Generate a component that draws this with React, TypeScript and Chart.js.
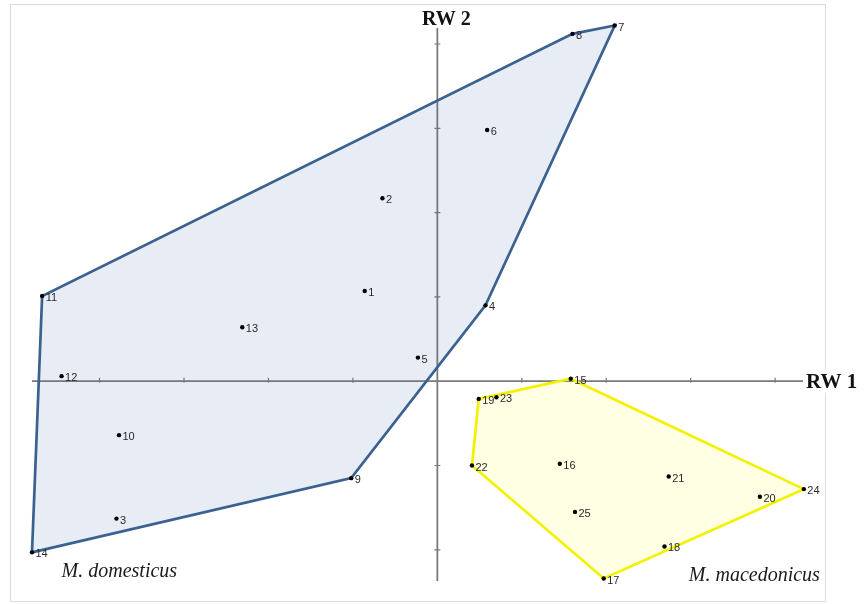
import React, { useEffect, useRef } from "react";
import { Chart, registerables } from "chart.js";

Chart.register(...registerables);

// Specimen scores on the first two relative warps
const specimenIds = [
  1, 2, 3, 4, 5, 6, 7, 8, 9, 10, 11, 12, 13, 14, 15, 16, 17, 18, 19, 20, 21, 22, 23, 24, 25,
];
const rw1Scores = [
  -0.86, -0.65, -3.8, 0.57, -0.23, 0.59, 2.1, 1.6, -1.02, -3.77, -4.68, -4.45, -2.31, -4.8,
  1.58, 1.45, 1.97, 2.69, 0.49, 3.82, 2.74, 0.41, 0.7, 4.34, 1.63,
];
const rw2Scores = [
  1.07, 2.17, -1.63, 0.9, 0.28, 2.98, 4.22, 4.12, -1.15, -0.64, 1.01, 0.06, 0.64, -2.03,
  0.03, -0.98, -2.34, -1.96, -0.21, -1.37, -1.13, -1.0, -0.19, -1.28, -1.55,
];

// Convex hull vertices of each species, by specimen id
const domesticusHull = [14, 11, 8, 7, 4, 9];
const macedonicusHull = [15, 24, 17, 22, 19];

const speciesNames = ["M. domesticus", "M. macedonicus"];
const axisTitles = ["RW 1", "RW 2"];

// Axis ranges
const rw1Range = [-4.8, 4.33];
const rw2Range = [-2.37, 4.19];

const pointOf = (id: number) => {
  const i = specimenIds.indexOf(id);
  return { x: rw1Scores[i], y: rw2Scores[i] };
};
const closedHull = (ids: number[]) => [...ids, ids[0]].map(pointOf);

const axesPlugin = {
  id: "crossAxes",
  beforeDatasetsDraw(chart: any) {
    const { ctx, scales } = chart;
    const xs = scales.x;
    const ys = scales.y;
    const x0 = xs.getPixelForValue(0);
    const y0 = ys.getPixelForValue(0);
    ctx.save();
    ctx.strokeStyle = "#7a7a7a";
    ctx.lineWidth = 1.8;
    ctx.beginPath();
    ctx.moveTo(xs.getPixelForValue(rw1Range[0]), y0);
    ctx.lineTo(xs.getPixelForValue(rw1Range[1]), y0);
    ctx.moveTo(x0, ys.getPixelForValue(rw2Range[1]));
    ctx.lineTo(x0, ys.getPixelForValue(rw2Range[0]));
    ctx.stroke();
    ctx.lineWidth = 1.2;
    ctx.beginPath();
    for (let v = Math.ceil(rw1Range[0]); v <= Math.floor(rw1Range[1]); v++) {
      if (v === 0) continue;
      const px = xs.getPixelForValue(v);
      ctx.moveTo(px, y0 - 3.5);
      ctx.lineTo(px, y0 + 1.5);
    }
    for (let v = Math.ceil(rw2Range[0]); v <= Math.floor(rw2Range[1]); v++) {
      if (v === 0) continue;
      const py = ys.getPixelForValue(v);
      ctx.moveTo(x0 - 3, py);
      ctx.lineTo(x0 + 3, py);
    }
    ctx.stroke();
    ctx.restore();
  },
  afterDatasetsDraw(chart: any) {
    const { ctx, scales } = chart;
    const xs = scales.x;
    const ys = scales.y;
    const x0 = xs.getPixelForValue(0);
    const y0 = ys.getPixelForValue(0);
    ctx.save();

    // specimen labels
    const meta = chart.getDatasetMeta(0);
    ctx.font = "11px 'Liberation Sans', Arial, sans-serif";
    ctx.fillStyle = "#2a2a2a";
    ctx.textAlign = "left";
    ctx.textBaseline = "middle";
    meta.data.forEach((el: any, i: number) => {
      ctx.fillText(String(specimenIds[i]), el.x + 3.5, el.y + 2);
    });

    // axis titles
    ctx.font = "bold 21px 'Liberation Serif', 'Times New Roman', serif";
    const t1 = axisTitles[0];
    const w1 = ctx.measureText(t1).width;
    const lx = xs.getPixelForValue(rw1Range[1]) + 3;
    ctx.fillStyle = "#fff";
    ctx.fillRect(lx - 1, y0 - 12, w1 + 2, 24);
    ctx.fillStyle = "#111";
    ctx.textAlign = "left";
    ctx.fillText(t1, lx, y0 + 1);
    ctx.font = "bold 20px 'Liberation Serif', 'Times New Roman', serif";
    ctx.textAlign = "center";
    ctx.fillText(axisTitles[1], x0 + 9, ys.getPixelForValue(rw2Range[1]) - 8);

    // species names
    ctx.font = "italic 20px 'Liberation Serif', 'Times New Roman', serif";
    ctx.fillStyle = "#1a1a1a";
    ctx.textAlign = "left";
    ctx.fillText(speciesNames[0], xs.getPixelForValue(-4.45), ys.getPixelForValue(-2.26));
    ctx.textAlign = "right";
    ctx.fillText(speciesNames[1], xs.getPixelForValue(4.53), ys.getPixelForValue(-2.31));
    ctx.restore();
  },
};

export default function App() {
  const canvasRef = useRef<HTMLCanvasElement | null>(null);

  useEffect(() => {
    if (!canvasRef.current) return;
    const chart = new Chart(canvasRef.current, {
      type: "scatter",
      data: {
        datasets: [
          {
            label: "specimens",
            data: specimenIds.map((_, i) => ({ x: rw1Scores[i], y: rw2Scores[i] })),
            pointRadius: 2.2,
            pointBackgroundColor: "#000",
            pointBorderColor: "#000",
            pointBorderWidth: 0,
            showLine: false,
            clip: false,
          } as any,
          {
            label: speciesNames[0],
            data: closedHull(domesticusHull),
            showLine: true,
            fill: "shape",
            tension: 0,
            borderColor: "#3b6190",
            borderWidth: 2.7,
            backgroundColor: "rgba(60,100,170,0.12)",
            pointRadius: 0,
            clip: false,
          } as any,
          {
            label: speciesNames[1],
            data: closedHull(macedonicusHull),
            showLine: true,
            fill: "shape",
            tension: 0,
            borderColor: "#f2f200",
            borderWidth: 2.7,
            backgroundColor: "rgba(255,255,0,0.11)",
            pointRadius: 0,
            clip: false,
          } as any,
        ],
      },
      options: {
        animation: false,
        responsive: false,
        layout: { autoPadding: false, padding: { left: 32, right: 61, top: 28, bottom: 23 } },
        plugins: { legend: { display: false }, tooltip: { enabled: false } },
        scales: {
          x: { type: "linear", min: rw1Range[0], max: rw1Range[1], display: false },
          y: { type: "linear", min: rw2Range[0], max: rw2Range[1], display: false },
        },
      },
      plugins: [axesPlugin],
    });
    return () => chart.destroy();
  }, []);

  return (
    <div style={{ position: "absolute", left: 0, top: 0, width: 864, height: 604, background: "#fff" }}>
      <div
        style={{
          position: "absolute",
          left: 10,
          top: 4,
          width: 814,
          height: 596,
          border: "1px solid #dcdcdc",
        }}
      />
      <canvas ref={canvasRef} width={864} height={604} style={{ position: "absolute", left: 0, top: 0 }} />
    </div>
  );
}
